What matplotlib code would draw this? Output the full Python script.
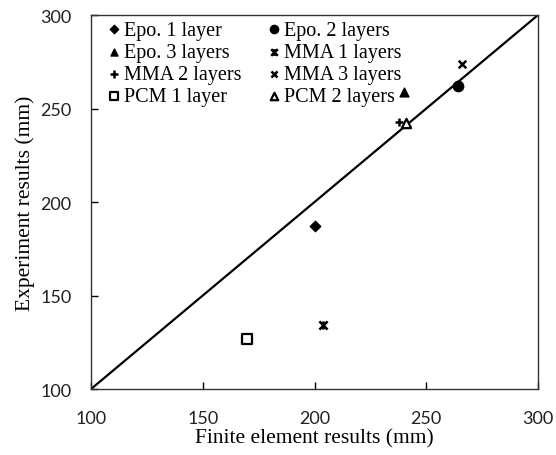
import matplotlib.pyplot as plt
from matplotlib.path import Path

# finite element (x) vs experiment (y), in mm
labels = ['Epo. 1 layer', 'Epo. 2 layers', 'Epo. 3 layers', 'MMA 1 layers',
          'MMA 2 layers', 'MMA 3 layers', 'PCM 1 layer', 'PCM 2 layers']
fe_results = [200, 264, 240, 204, 238, 266, 170, 241]
exp_results = [187, 262, 259, 134, 243, 274, 127, 242]

# Excel-like "star" marker: an x with a vertical bar
star = Path([(-1, -1), (1, 1), (-1, 1), (1, -1), (0, -1), (0, 1)],
            [Path.MOVETO, Path.LINETO, Path.MOVETO, Path.LINETO, Path.MOVETO, Path.LINETO])

styles = [
    dict(marker='D', s=28, facecolors='black', edgecolors='black'),
    dict(marker='o', s=55, facecolors='black', edgecolors='black'),
    dict(marker='^', s=40, facecolors='black', edgecolors='black'),
    dict(marker=star, s=35, color='black', linewidths=1.8),
    dict(marker='+', s=40, color='black', linewidths=1.8),
    dict(marker='x', s=30, color='black', linewidths=1.8),
    dict(marker='s', s=55, facecolors='white', edgecolors='black', linewidths=1.6),
    dict(marker='^', s=45, facecolors='white', edgecolors='black', linewidths=1.6),
]

fig = plt.figure(figsize=(5.56, 4.56), dpi=100)
ax = fig.add_axes([0.1637, 0.1447, 0.804, 0.8202])

ax.plot([100, 300], [100, 300], color='black', lw=1.6, zorder=1)
handles = []
for lab, x, y, st in zip(labels, fe_results, exp_results, styles):
    handles.append(ax.scatter([x], [y], label=lab, zorder=3, **st))

ax.set_xlim(100, 300)
ax.set_ylim(100, 300)
ax.set_xticks([100, 150, 200, 250, 300])
ax.set_yticks([100, 150, 200, 250, 300])
ax.tick_params(direction='in', length=5, width=1, labelsize=13, colors='black', labelcolor='#222222')
ax.tick_params(axis='x', pad=15)
ax.tick_params(axis='y', pad=14)
for lab in ax.get_xticklabels() + ax.get_yticklabels():
    lab.set_family('Lato')
for sp in ax.spines.values():
    sp.set_linewidth(1.0)
    sp.set_color('#333333')

ax.set_xlabel('Finite element results (mm)', family='Liberation Serif', fontsize=15.5, labelpad=2)
ax.set_ylabel('Experiment results (mm)', family='Liberation Serif', fontsize=15.5, labelpad=4)

# legend filled row by row, like the original
order = [0, 2, 4, 6, 1, 3, 5, 7]
ax.legend([handles[i] for i in order], [labels[i] for i in order],
          loc='upper left', ncol=2, frameon=False, prop={'family': 'Liberation Serif', 'size': 14.5},
          handletextpad=0.0, columnspacing=1.1, labelspacing=0.15, borderaxespad=0.1,
          handlelength=1.0, markerscale=0.8, bbox_to_anchor=(0.007, 1.012))

fig.savefig('out.png', dpi=100)
